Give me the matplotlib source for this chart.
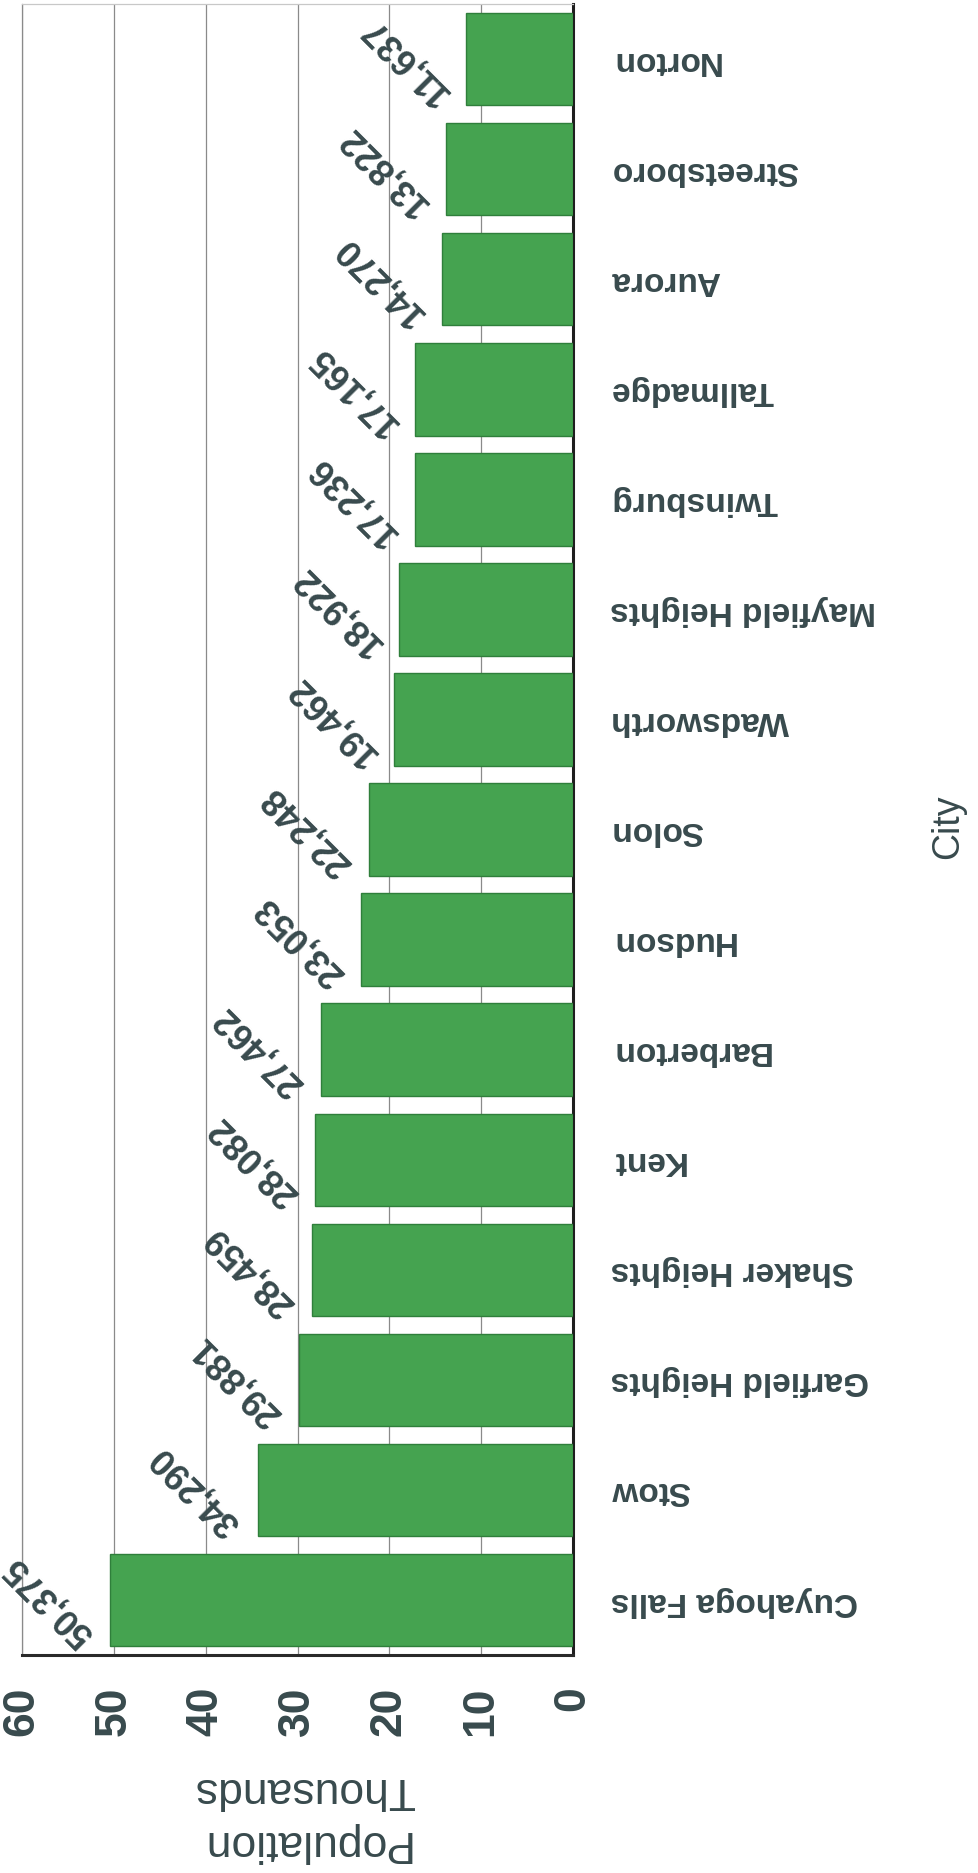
import numpy as np
import matplotlib
matplotlib.use('Agg')
import matplotlib.pyplot as plt

plt.rcParams['font.family'] = ['Liberation Sans', 'DejaVu Sans']

# 数据（从上到下）
cities = ['Norton', 'Streetsboro', 'Aurora', 'Tallmadge', 'Twinsburg',
          'Mayfield Heights', 'Wadsworth', 'Solon', 'Hudson', 'Barberton',
          'Kent', 'Shaker Heights', 'Garfield Heights', 'Stow', 'Cuyahoga Falls']
population = [11637, 13822, 14270, 17165, 17236,
              18922, 19462, 22248, 23053, 27462,
              28082, 28459, 29881, 34290, 50375]
ticks = [0, 10, 20, 30, 40, 50, 60]

text_color = '#384a4d'
bar_color = '#45a350'
edge_color = '#2f7f3b'

fig = plt.figure(figsize=(9.79, 18.74), dpi=100)
ax = fig.add_axes([0.0225, 0.1163, 0.5628, 0.8810])

y = np.arange(len(cities))
vals = np.array(population) / 1000.0
ax.barh(y, vals, height=0.84, color=bar_color, edgecolor=edge_color, linewidth=1.0, zorder=3)

# 数值标签
for yi, v, p in zip(y, vals, population):
    ax.annotate(f'{p:,}', xy=(v, yi), xytext=(-8, 0), textcoords='offset points',
                rotation=135, ha='right', va='center', fontsize=26,
                fontweight='bold', color=text_color, zorder=4)

ax.set_xlim(60, 0)
ax.set_ylim(len(cities) - 0.5, -0.5)
ax.set_xticks(ticks)
ax.set_xticklabels([str(t) for t in ticks], rotation=90, fontsize=32,
                   fontweight='bold', color=text_color)
ax.tick_params(axis='x', length=0, pad=22)

ax.yaxis.tick_right()
ax.set_yticks(y)
ax.set_yticklabels(cities, rotation=180, fontsize=24, fontweight='bold',
                   color=text_color, ha='left', va='center')
ax.tick_params(axis='y', length=0, pad=27)

ax.grid(axis='x', color='#8a8a8a', linewidth=0.9, zorder=0)
ax.spines['bottom'].set_color('#2a2a2a')
ax.spines['bottom'].set_linewidth(2.2)
ax.spines['right'].set_color('#1e1e1e')
ax.spines['right'].set_linewidth(2.2)
ax.spines['left'].set_color('#8a8a8a')
ax.spines['left'].set_linewidth(0.9)
ax.spines['top'].set_color('#c8c8c8')
ax.spines['top'].set_linewidth(0.9)

fig.text(304 / 979, 1 - 1816 / 1874, 'Population\nThousands', rotation=180,
         ha='center', va='center', multialignment='center', fontsize=32,
         color=text_color, linespacing=1.35)
fig.text(948 / 979, 1 - 827 / 1874, 'City', rotation=90, ha='center',
         va='center', fontsize=27, color=text_color)

fig.savefig('out.png', dpi=100)
